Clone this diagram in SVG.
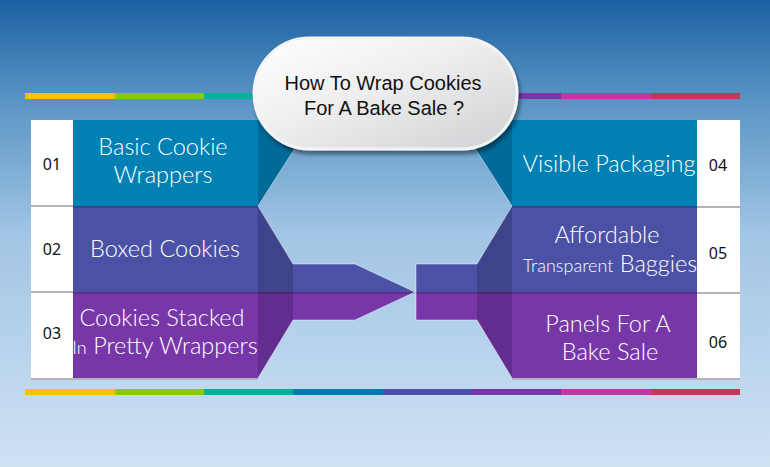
<svg xmlns="http://www.w3.org/2000/svg" width="770" height="467" viewBox="0 0 770 467">
<defs>
<linearGradient id="bg" x1="0" y1="0" x2="0" y2="1">
<stop offset="0" stop-color="#1B61A2"/>
<stop offset="0.22" stop-color="#5B95C5"/>
<stop offset="0.5" stop-color="#A1C5E4"/>
<stop offset="1" stop-color="#CFE2F4"/>
</linearGradient>
<linearGradient id="bub" x1="0" y1="0" x2="1" y2="1">
<stop offset="0" stop-color="#FFFFFF"/>
<stop offset="0.45" stop-color="#EEEEEF"/>
<stop offset="1" stop-color="#CFD0D3"/>
</linearGradient>
<filter id="sh" x="-10%" y="-10%" width="125%" height="135%">
<feGaussianBlur in="SourceAlpha" stdDeviation="2"/>
<feOffset dx="2" dy="4"/>
<feComponentTransfer><feFuncA type="linear" slope="0.45"/></feComponentTransfer>
<feMerge><feMergeNode/><feMergeNode in="SourceGraphic"/></feMerge>
</filter>
</defs>
<style>
.lbl{font-family:Lato,"Open Sans","Liberation Sans",sans-serif;font-weight:300;fill:#FFFFFF;font-size:23.5px;text-anchor:middle}
.sm{font-size:18px}
.num{font-family:"Noto Sans","Liberation Sans",sans-serif;font-size:16px;fill:#111111;text-anchor:middle}
.ttl{font-family:"Liberation Sans",Arial,sans-serif;font-size:20px;fill:#111111;text-anchor:middle}
.cell{fill:#FFFFFF}
.div{stroke:#B2B4B8;stroke-width:2}
.blue{fill:#0080B3}
.indigo{fill:#4B51A5}
.purple{fill:#7837A8}
.wblue{fill:#006B99}
.windigo{fill:#3F438B}
.wpurple{fill:#632D90}
.edge{fill:none;stroke:#FFFFFF;stroke-opacity:0.45;stroke-width:1}
.sep{stroke:#000000;stroke-opacity:0.18;stroke-width:2}
</style>
<rect x="0" y="0" width="770" height="467" fill="url(#bg)"/>
<g id="bars">
<rect x="25" y="93" width="90" height="6" fill="#FFC000"/>
<rect x="115" y="93" width="89" height="6" fill="#8CC800"/>
<rect x="204" y="93" width="89" height="6" fill="#00B09A"/>
<rect x="293" y="93" width="90" height="6" fill="#0079B0"/>
<rect x="383" y="93" width="89" height="6" fill="#4B4FA6"/>
<rect x="472" y="93" width="89" height="6" fill="#7A35A8"/>
<rect x="561" y="93" width="90" height="6" fill="#C435A4"/>
<rect x="651" y="93" width="89" height="6" fill="#C3375B"/>
<rect x="25" y="389" width="90" height="6" fill="#FFC000"/>
<rect x="115" y="389" width="89" height="6" fill="#8CC800"/>
<rect x="204" y="389" width="89" height="6" fill="#00B09A"/>
<rect x="293" y="389" width="90" height="6" fill="#0079B0"/>
<rect x="383" y="389" width="89" height="6" fill="#4B4FA6"/>
<rect x="472" y="389" width="89" height="6" fill="#7A35A8"/>
<rect x="561" y="389" width="90" height="6" fill="#C435A4"/>
<rect x="651" y="389" width="89" height="6" fill="#C3375B"/>
</g>
<g id="connectors">
<polygon class="wblue" points="258,120 313,120 258,206"/>
<polygon class="windigo" points="258,206 293,264 293,292 258,292"/>
<polygon class="wpurple" points="258,292 293,292 293,320 258,378"/>
<polygon class="indigo" points="293,264 355,264 415,292 293,292"/>
<polygon class="purple" points="293,292 415,292 355,320 293,320"/>
<polygon class="wblue" points="512,120 457,120 512,206"/>
<polygon class="windigo" points="512,206 477,264 477,292 512,292"/>
<polygon class="wpurple" points="512,292 477,292 477,320 512,378"/>
<rect class="indigo" x="416" y="264" width="61" height="28"/>
<rect class="purple" x="416" y="292" width="61" height="28"/>
<line class="sep" x1="258" y1="293" x2="415" y2="293"/>
<line class="sep" x1="416" y1="293" x2="512" y2="293"/>
<polyline class="edge" points="313,120 258,206 293,264 355,264 415,292 355,320 293,320 258,378"/>
<polyline class="edge" points="457,120 512,206 477,264 416,264 416,320 477,320 512,378"/>
</g>
<g id="item01">
<rect class="cell" x="31" y="120" width="42" height="86"/>
<rect class="blue" x="73" y="120" width="185" height="86"/>
<text class="num" x="52" y="170">01</text>
<text class="lbl" x="163" y="155">Basic Cookie</text>
<text class="lbl" x="163" y="183">Wrappers</text>
</g>
<g id="item02">
<rect class="cell" x="31" y="206" width="42" height="86"/>
<rect class="indigo" x="73" y="206" width="185" height="86"/>
<line class="div" x1="31" y1="206" x2="73" y2="206"/>
<line class="sep" x1="73" y1="207" x2="258" y2="207"/>
<text class="num" x="52" y="255">02</text>
<text class="lbl" x="165" y="257">Boxed Cookies</text>
</g>
<g id="item03">
<rect class="cell" x="31" y="292" width="42" height="86"/>
<rect class="purple" x="73" y="292" width="185" height="86"/>
<line class="div" x1="31" y1="292" x2="73" y2="292"/>
<line class="sep" x1="73" y1="293" x2="258" y2="293"/>
<line class="div" x1="31" y1="379" x2="258" y2="379"/>
<text class="num" x="52" y="339">03</text>
<text class="lbl" x="162" y="326">Cookies Stacked</text>
<text class="lbl" x="165" y="354"><tspan class="sm">In</tspan> Pretty Wrappers</text>
</g>
<g id="item04">
<rect class="cell" x="697" y="120" width="43" height="86"/>
<rect class="blue" x="512" y="120" width="185" height="86"/>
<text class="num" x="718" y="171">04</text>
<text class="lbl" x="609" y="172">Visible Packaging</text>
</g>
<g id="item05">
<rect class="cell" x="697" y="206" width="43" height="86"/>
<rect class="indigo" x="512" y="206" width="185" height="86"/>
<line class="div" x1="697" y1="207" x2="740" y2="207"/>
<line class="sep" x1="512" y1="207" x2="697" y2="207"/>
<text class="num" x="718" y="259">05</text>
<text class="lbl" x="607" y="243">Affordable</text>
<text class="lbl" x="610" y="272"><tspan class="sm">Transparent</tspan> Baggies</text>
</g>
<g id="item06">
<rect class="cell" x="697" y="292" width="43" height="86"/>
<rect class="purple" x="512" y="292" width="185" height="86"/>
<line class="div" x1="697" y1="293" x2="740" y2="293"/>
<line class="sep" x1="512" y1="293" x2="697" y2="293"/>
<line class="div" x1="512" y1="379" x2="740" y2="379"/>
<text class="num" x="718" y="348">06</text>
<text class="lbl" x="608" y="332">Panels For A</text>
<text class="lbl" x="610" y="360">Bake Sale</text>
</g>
<g id="title">
<rect x="254" y="38" width="263" height="111" rx="55.5" fill="url(#bub)" stroke="#F4F4F4" stroke-width="3" filter="url(#sh)"/>
<text class="ttl" x="383" y="90">How To Wrap Cookies</text>
<text class="ttl" x="384" y="115">For A Bake Sale ?</text>
</g>
</svg>
